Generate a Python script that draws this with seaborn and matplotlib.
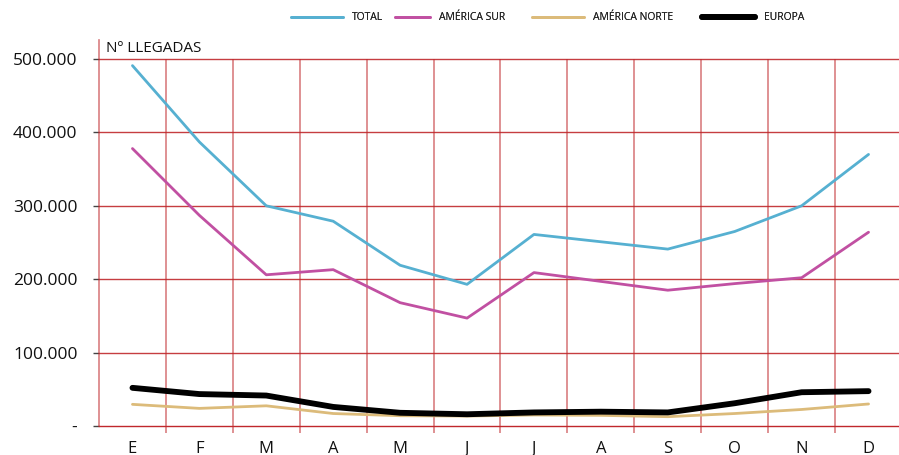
import matplotlib
matplotlib.use("Agg")
import matplotlib.pyplot as plt
from matplotlib.lines import Line2D
import seaborn as sns
import pandas as pd
import numpy as np

months = ["E", "F", "M", "A", "M", "J", "J", "A", "S", "O", "N", "D"]
total = [491000, 387000, 300000, 279000, 219000, 193000, 261000, 251000, 241000, 265000, 300000, 370000]
america_sur = [378000, 287000, 206000, 213000, 168000, 147000, 209000, 197000, 185000, 194000, 202000, 264000]
america_norte = [29500, 24000, 27500, 17000, 14000, 13500, 15000, 14500, 12700, 17000, 22500, 30000]
europa = [52000, 43500, 41500, 26000, 18000, 16000, 18500, 19500, 18500, 31000, 46000, 47500]

series_names = ["TOTAL", "AMÉRICA SUR", "AMÉRICA NORTE", "EUROPA"]
colors = ["#56b0d1", "#c150a2", "#dcbb7a", "#000000"]
widths = [2.0, 2.0, 2.0, 4.2]

sns.set_theme(style="white")
plt.rcParams["font.family"] = ["Open Sans", "DejaVu Sans"]

fig = plt.figure(figsize=(8.99, 4.55), dpi=100)
ax = fig.add_axes([99 / 899, (455 - 426) / 455, 800 / 899, (426 - 40) / 455])

x = np.arange(len(months))
data = [total, america_sur, america_norte, europa]
for name, vals, c, w in zip(series_names, data, colors, widths):
    df = pd.DataFrame({"x": x, "y": vals})
    sns.lineplot(data=df, x="x", y="y", ax=ax, color=c, linewidth=w,
                 solid_capstyle="round", solid_joinstyle="round", zorder=5)

ymax_grid = 500000
ax.set_ylim(0, ymax_grid * (386 / 367))
ax.set_xlim(-0.5, 11.5 - 3 / 67)

grid_c = "#c0282c"
for yv in range(100000, 500001, 100000):
    ax.axhline(yv, color=grid_c, lw=1.0, alpha=0.9, zorder=1)
bounds = np.arange(0.5, 11, 1.0)
ax.vlines(bounds, -0.02 * ymax_grid, ymax_grid, color=grid_c, lw=1.2, alpha=0.6,
          zorder=1, clip_on=False)

for s in ["top", "right"]:
    ax.spines[s].set_visible(False)
ax.spines["bottom"].set_color(grid_c)
ax.spines["bottom"].set_linewidth(1.0)
ax.spines["left"].set_color(grid_c)
ax.spines["left"].set_alpha(0.6)
ax.spines["left"].set_linewidth(1.2)

yt = [0, 100000, 200000, 300000, 400000, 500000]
ylabels = ["-" if v == 0 else f"{v:,}".replace(",", ".") for v in yt]
ax.set_yticks(yt)
ax.set_yticklabels(ylabels, fontsize=12.5, color="#111111")
ax.tick_params(axis="y", left=True, length=4.5, width=1, color="#444444", pad=11)

ax.set_xticks(x)
ax.set_xticklabels(months, fontsize=12, color="#111111")
ax.tick_params(axis="x", bottom=False, pad=4.5)
ax.set_xlabel("")
ax.set_ylabel("")

ax.text(0.009, (426 - 48) / 386, "Nº LLEGADAS", transform=ax.transAxes,
        fontsize=11, va="center", ha="left", color="#111111")

# legend entries placed individually (line start px, line length px)
leg_fs = 7.5
px_per_unit = leg_fs * 100 / 72
leg_pos = [(291, 52), (395, 35), (532, 52), (702, 53)]
for name, c, w, (xs, ln) in zip(series_names, colors, widths, leg_pos):
    h = Line2D([0], [0], color=c, lw=w, solid_capstyle="round")
    leg = fig.legend([h], [name], loc="center left", bbox_to_anchor=(xs / 899, 1 - 18 / 455),
                     frameon=False, fontsize=leg_fs, handlelength=ln / px_per_unit,
                     handletextpad=9 / px_per_unit, borderpad=0, borderaxespad=0)
    fig.add_artist(leg)

fig.savefig("out.png", dpi=100)
